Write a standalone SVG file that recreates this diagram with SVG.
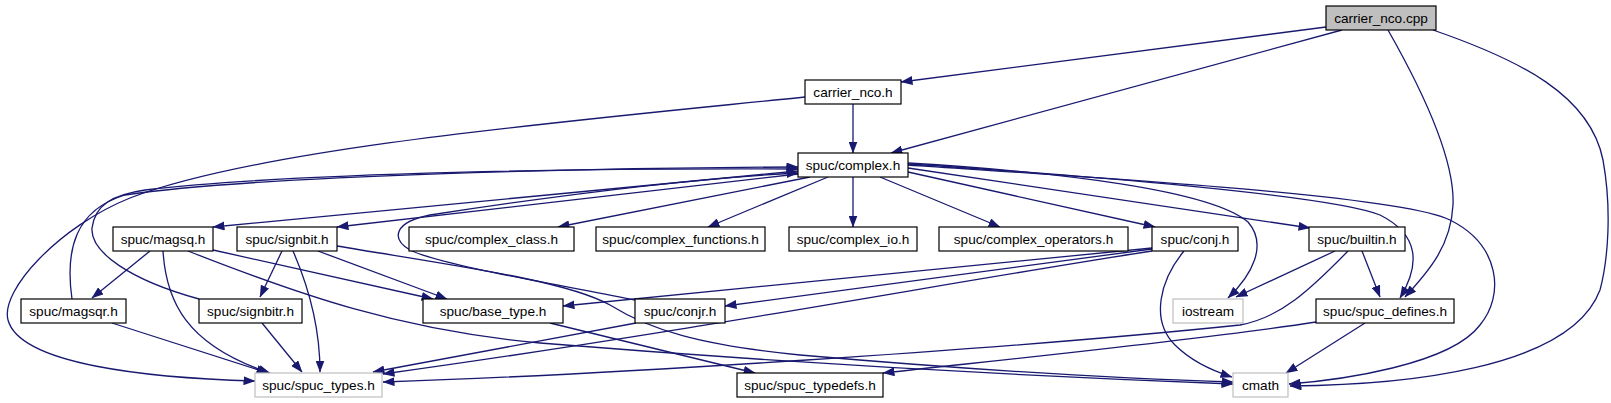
<svg xmlns="http://www.w3.org/2000/svg" width="1611" height="403" viewBox="0 0 1611 403">
<defs>
<marker id="arr" markerUnits="userSpaceOnUse" markerWidth="12" markerHeight="9" viewBox="0 0 12 9" refX="11.5" refY="4.5" orient="auto">
<path d="M0,0 L12,4.5 L0,9 z" fill="#191970"/>
</marker>
<style>
.n rect{fill:#fff;stroke:#000;stroke-width:1.2}
.n.root rect{fill:#bfbfbf}
.n.ext rect{stroke:#bfbfbf}
.n text{font-family:"Liberation Sans",Arial,sans-serif;font-size:13.6px;fill:#000;text-anchor:middle}
#edges path{fill:none;stroke:#191970;stroke-width:1.3;marker-end:url(#arr)}
</style>
</defs>
<rect width="1611" height="403" fill="#fff"/>
<g id="edges">
<path d="M1326,27 L901,82"/>
<path d="M1342,30 L891,153"/>
<path d="M1388,30 C1425,95 1455,160 1453,205 C1451,245 1430,270 1405,297"/>
<path d="M1433,30 C1520,60 1590,95 1603,160 C1612,210 1608,260 1600,290 C1570,370 1400,385 1290,386"/>
<path d="M853,104 L853,153"/>
<path d="M805,97 C560,122 260,148 130,198 C60,226 0,290 8,320 C20,365 150,378 255,381"/>
<path d="M798,171 L213,227"/>
<path d="M798,174 L337,227"/>
<path d="M810,177 L558,227"/>
<path d="M828,177 L708,227"/>
<path d="M853,177 L853,227"/>
<path d="M880,177 L1000,227"/>
<path d="M908,172 L1155,227"/>
<path d="M908,168 L1310,228"/>
<path d="M908,163 C1060,172 1210,190 1248,222 C1268,245 1252,275 1228,298"/>
<path d="M908,164 C1080,175 1330,195 1380,215 C1420,235 1420,265 1400,298"/>
<path d="M908,165 C1100,178 1400,195 1450,220 C1500,245 1505,295 1480,325 C1450,365 1340,380 1289,384"/>
<path d="M150,251 L92,298"/>
<path d="M213,250 L433,299"/>
<path d="M163,251 C166,300 185,345 270,373"/>
<path d="M188,251 C300,295 400,330 540,343 C750,360 1000,375 1233,384"/>
<path d="M72,299 C65,250 75,210 125,195 C260,175 600,168 798,167"/>
<path d="M112,323 L268,373"/>
<path d="M282,251 L260,297"/>
<path d="M318,251 L447,299"/>
<path d="M293,251 C310,290 320,330 320,372"/>
<path d="M337,246 C450,265 565,280 610,305 C650,330 700,345 800,355 C950,368 1100,378 1233,382"/>
<path d="M199,299 C130,280 90,252 92,228 C95,205 112,195 145,190 C300,172 600,168 798,169"/>
<path d="M262,323 L302,372"/>
<path d="M635,300 C560,285 440,265 410,250 C390,238 395,222 430,215 C560,195 700,178 798,173"/>
<path d="M636,323 L373,372"/>
<path d="M550,323 L755,373"/>
<path d="M1152,248 L563,306"/>
<path d="M1152,249 L725,306"/>
<path d="M1152,251 C950,282 700,330 383,374"/>
<path d="M1184,251 C1160,280 1150,320 1175,345 C1190,360 1210,370 1232,377"/>
<path d="M1335,251 L1236,297"/>
<path d="M1362,251 L1380,297"/>
<path d="M1348,251 C1310,290 1280,318 1240,325 C1000,350 600,375 383,382"/>
<path d="M1316,322 C1200,340 1000,360 883,373"/>
<path d="M1365,323 L1286,373"/>
</g>
<g id="n1" class="n root"><rect x="1326" y="6" width="110" height="24"/><text x="1381" y="23">carrier_nco.cpp</text></g>
<g id="n2" class="n"><rect x="805" y="80" width="96" height="24"/><text x="853" y="97">carrier_nco.h</text></g>
<g id="n3" class="n"><rect x="798" y="153" width="110" height="24"/><text x="853" y="170">spuc/complex.h</text></g>
<g id="n4" class="n"><rect x="113" y="227" width="100" height="24"/><text x="163" y="244">spuc/magsq.h</text></g>
<g id="n5" class="n"><rect x="237" y="227" width="100" height="24"/><text x="287" y="244">spuc/signbit.h</text></g>
<g id="n6" class="n"><rect x="409" y="227" width="165" height="24"/><text x="491.5" y="244">spuc/complex_class.h</text></g>
<g id="n7" class="n"><rect x="596" y="227" width="169" height="24"/><text x="680.5" y="244">spuc/complex_functions.h</text></g>
<g id="n8" class="n"><rect x="789" y="227" width="128" height="24"/><text x="853" y="244">spuc/complex_io.h</text></g>
<g id="n9" class="n"><rect x="939" y="227" width="189" height="24"/><text x="1033.5" y="244">spuc/complex_operators.h</text></g>
<g id="n10" class="n"><rect x="1152" y="227" width="86" height="24"/><text x="1195" y="244">spuc/conj.h</text></g>
<g id="n11" class="n"><rect x="1309" y="227" width="96" height="24"/><text x="1357" y="244">spuc/builtin.h</text></g>
<g id="n12" class="n"><rect x="21" y="299" width="105" height="24"/><text x="73.5" y="316">spuc/magsqr.h</text></g>
<g id="n13" class="n"><rect x="199" y="299" width="103" height="24"/><text x="250.5" y="316">spuc/signbitr.h</text></g>
<g id="n14" class="n"><rect x="423" y="299" width="140" height="24"/><text x="493" y="316">spuc/base_type.h</text></g>
<g id="n15" class="n"><rect x="635" y="299" width="90" height="24"/><text x="680" y="316">spuc/conjr.h</text></g>
<g id="n16" class="n ext"><rect x="1173" y="299" width="70" height="24"/><text x="1208" y="316">iostream</text></g>
<g id="n17" class="n"><rect x="1316" y="299" width="138" height="24"/><text x="1385" y="316">spuc/spuc_defines.h</text></g>
<g id="n18" class="n ext"><rect x="255" y="373" width="127" height="24"/><text x="318.5" y="390">spuc/spuc_types.h</text></g>
<g id="n19" class="n"><rect x="737" y="373" width="146" height="24"/><text x="810" y="390">spuc/spuc_typedefs.h</text></g>
<g id="n20" class="n ext"><rect x="1233" y="373" width="55" height="24"/><text x="1260.5" y="390">cmath</text></g>
</svg>
